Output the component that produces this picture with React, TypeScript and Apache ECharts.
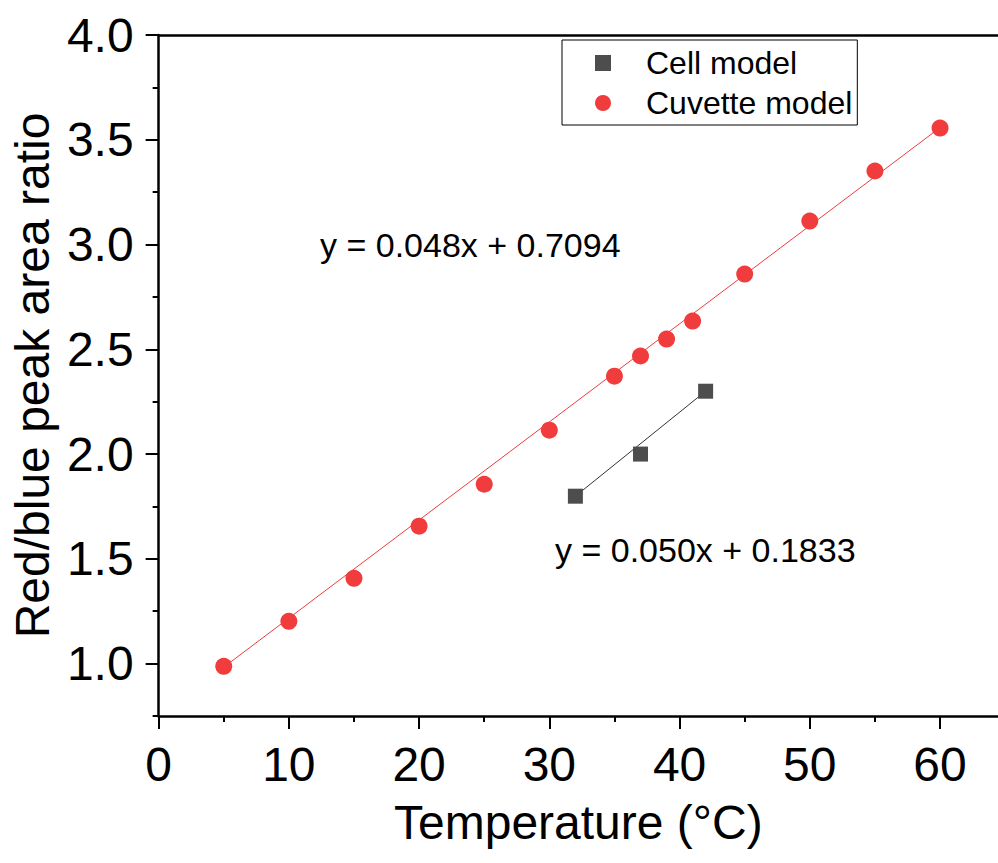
import React, { useEffect, useRef } from "react";
import * as echarts from "echarts";

// ---- data ----
const cuvetteX = [5, 10, 15, 20, 25, 30, 35, 37, 39, 41, 45, 50, 55, 60];
const cuvetteY = [0.987, 1.202, 1.407, 1.656, 1.856, 2.114, 2.372, 2.468, 2.549, 2.635, 2.859, 3.112, 3.351, 3.556];
const cellX = [32, 37, 42];
const cellY = [1.799, 2.0, 2.3];
// fitted line endpoints (as drawn)
const cuvetteFitX = [5, 60];
const cuvetteFitY = [0.983, 3.558];
const cellFitX = [32, 42];
const cellFitY = [1.799, 2.3];

const xMajorTicks = [0, 10, 20, 30, 40, 50, 60];
const xMinorTicks = [5, 15, 25, 35, 45, 55];
const yMajorTicks = [1.0, 1.5, 2.0, 2.5, 3.0, 3.5, 4.0];
const yMinorTicks = [0.75, 1.25, 1.75, 2.25, 2.75, 3.25, 3.75];

const xTitle = "Temperature (°C)";
const yTitle = "Red/blue peak area ratio";
const cuvetteEq = "y = 0.048x + 0.7094";
const cellEq = "y = 0.050x + 0.1833";
const seriesNames = ["Cell model", "Cuvette model"];

const FONT = "'Liberation Sans', Arial, Helvetica, sans-serif";
const RED = "#F03C3C";
const GRAY = "#4D4D4D";

const zip = (a: number[], b: number[]) => a.map((v, i) => [v, b[i]]);

export default function App() {
  const ref = useRef<HTMLDivElement>(null);
  useEffect(() => {
    if (!ref.current) return;
    const chart = echarts.init(ref.current, null, { renderer: "svg" });
    const axisCommon = {
      type: "value" as const,
      splitLine: { show: false },
    };
    chart.setOption({
      animation: false,
      backgroundColor: "#fff",
      grid: { left: 157, top: 35, right: 0, bottom: 147, containLabel: false },
      xAxis: [
        {
          ...axisCommon,
          position: "bottom",
          min: 0,
          max: 64.45,
          axisLine: { show: true, lineStyle: { color: "#000", width: 2.5 } },
          axisTick: { show: true, customValues: xMajorTicks, length: 13, lineStyle: { color: "#000", width: 2 } },
          axisLabel: {
            customValues: xMajorTicks,
            margin: 24,
            fontSize: 48,
            color: "#000",
            fontFamily: FONT,
          },
          name: xTitle,
          nameLocation: "middle",
          nameGap: 82,
          nameTextStyle: { fontSize: 48, color: "#000", fontFamily: FONT },
        },
        {
          ...axisCommon,
          position: "bottom",
          min: 0,
          max: 64.45,
          axisLine: { show: false },
          axisTick: { show: true, customValues: xMinorTicks, length: 6, lineStyle: { color: "#000", width: 2 } },
          axisLabel: { show: false },
        },
        {
          ...axisCommon,
          position: "top",
          min: 0,
          max: 64.45,
          axisLine: { show: true, lineStyle: { color: "#000", width: 2.5 } },
          axisTick: { show: false },
          axisLabel: { show: false },
        },
      ],
      yAxis: [
        {
          ...axisCommon,
          position: "left",
          min: 0.75,
          max: 4.0,
          axisLine: { show: true, lineStyle: { color: "#000", width: 2.5 } },
          axisTick: { show: true, customValues: yMajorTicks, length: 13, lineStyle: { color: "#000", width: 2 } },
          axisLabel: {
            customValues: yMajorTicks,
            margin: 25,
            fontSize: 48,
            color: "#000",
            fontFamily: FONT,
            formatter: (v: number) => v.toFixed(1),
          },
          name: yTitle,
          nameLocation: "middle",
          nameGap: 97,
          nameRotate: 90,
          nameTextStyle: { fontSize: 48, color: "#000", fontFamily: FONT },
        },
        {
          ...axisCommon,
          position: "left",
          min: 0.75,
          max: 4.0,
          axisLine: { show: false },
          axisTick: { show: true, customValues: yMinorTicks, length: 6, lineStyle: { color: "#000", width: 2 } },
          axisLabel: { show: false },
        },
      ],
      legend: {
        data: seriesNames,
        orient: "vertical",
        left: 562,
        top: 40,
        borderColor: "#000",
        borderWidth: 1,
        borderRadius: 0,
        padding: [7, 5, 6, 33],
        itemWidth: 16,
        itemHeight: 16,
        itemGap: 8,
        textStyle: {
          fontSize: 32,
          color: "#000",
          fontFamily: FONT,
          lineHeight: 32,
          padding: [0, 0, 0, 30],
        },
      },
      series: [
        {
          name: "cuvette-fit",
          type: "line",
          data: zip(cuvetteFitX, cuvetteFitY),
          showSymbol: false,
          symbol: "none",
          lineStyle: { color: RED, width: 1 },
          z: 1,
          silent: true,
        },
        {
          name: "cell-fit",
          type: "line",
          data: zip(cellFitX, cellFitY),
          showSymbol: false,
          symbol: "none",
          lineStyle: { color: "#333", width: 1 },
          z: 1,
          silent: true,
        },
        {
          name: seriesNames[0],
          type: "scatter",
          data: zip(cellX, cellY),
          symbol: "rect",
          symbolSize: 15,
          itemStyle: { color: GRAY, opacity: 1 },
          z: 3,
        },
        {
          name: seriesNames[1],
          type: "scatter",
          data: zip(cuvetteX, cuvetteY),
          symbol: "circle",
          symbolSize: 17,
          itemStyle: { color: RED, opacity: 1 },
          z: 3,
        },
      ],
      graphic: [
        {
          type: "text",
          left: 320,
          top: 228,
          style: { text: cuvetteEq, fontSize: 34, fill: "#000", fontFamily: FONT },
        },
        {
          type: "text",
          left: 555,
          top: 533,
          style: { text: cellEq, fontSize: 34, fill: "#000", fontFamily: FONT },
        },
      ],
    });
    return () => chart.dispose();
  }, []);
  return (
    <div
      ref={ref}
      style={{ position: "absolute", left: 0, top: 0, width: 998, height: 863 }}
    />
  );
}
